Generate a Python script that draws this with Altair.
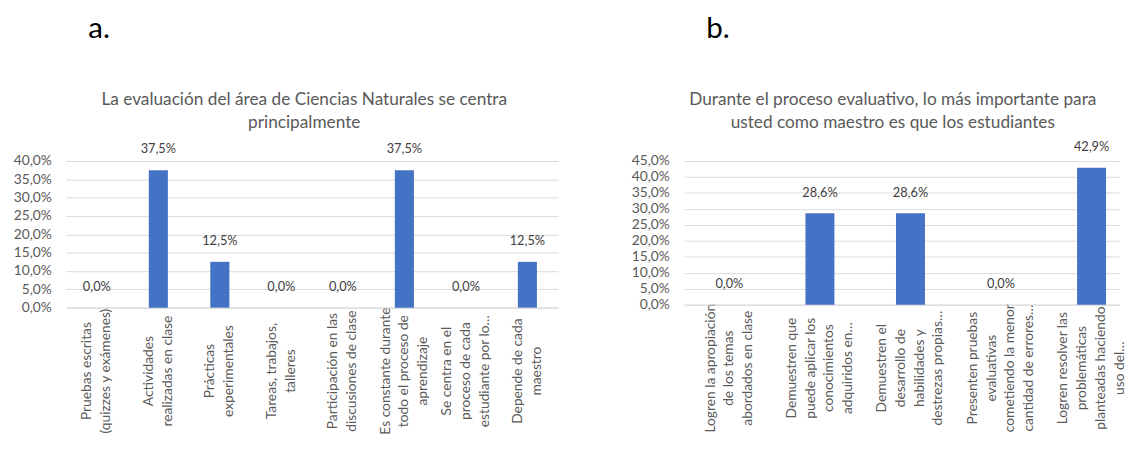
import altair as alt
import pandas as pd

# ---------------- data ----------------
cats_a = [
    "Pruebas escritas|(quizzes y exámenes)",
    "Actividades|realizadas en clase",
    "Prácticas|experimentales",
    "Tareas, trabajos,|talleres",
    "Participación en las|discusiones de clase",
    "Es constante durante|todo el proceso de|aprendizaje",
    "Se centra en el|proceso de cada|estudiante por lo…",
    "Depende de cada|maestro",
]
vals_a = [0.0, 0.375, 0.125, 0.0, 0.0, 0.375, 0.0, 0.125]
ticks_a = [0.0, 0.05, 0.10, 0.15, 0.20, 0.25, 0.30, 0.35, 0.40]
title_a = ["La evaluación del área de Ciencias Naturales se centra", "principalmente"]

cats_b = [
    "Logren la apropiación|de los temas|abordados en clase",
    "Demuestren que|puede aplicar los|conocimientos|adquiridos en…",
    "Demuestren el|desarrollo de|habilidades y|destrezas propias…",
    "Presenten pruebas|evaluativas|cometiendo la menor|cantidad de errores…",
    "Logren resolver las|problemáticas|planteadas haciendo|uso del…",
]
vals_b = [0.0, 0.286, 0.286, 0.0, 0.429]
ticks_b = [0.0, 0.05, 0.10, 0.15, 0.20, 0.25, 0.30, 0.35, 0.40, 0.45]
title_b = ["Durante el proceso evaluativo, lo más importante para",
           "usted como maestro es que los estudiantes"]

FONT = "Lato"
GRAY = "#595959"
LH = 19
PCT = "replace(format({}, '.1%'), '.', ',')"
THREE = "length(split(datum.label, '|')) == 3"


def panel(cats, vals, ticks, title, letter, w, h, xscale, label_pad, title_dx, other_lines):
    df = pd.DataFrame({"cat": cats, "v": vals})
    # centre every multi-line label block on its category
    lab_off = {"condition": {"test": THREE, "value": -LH},
               "value": -(other_lines - 1) * LH / 2}
    base = alt.Chart(df).encode(
        x=alt.X(
            "cat:N", sort=None, scale=xscale,
            axis=alt.Axis(
                title=None, labelAngle=270, labelAlign="center", labelBaseline="middle",
                labelPadding=label_pad, labelExpr="split(datum.label, '|')",
                labelOffset=lab_off,
                labelFont=FONT, labelFontSize=14, labelColor=GRAY, labelLineHeight=LH,
                ticks=False, domainColor="#d9d9d9", labelLimit=400, labelOverlap=False,
            ),
        ),
        y=alt.Y(
            "v:Q", scale=alt.Scale(domain=[0, ticks[-1]], nice=False),
            axis=alt.Axis(
                values=ticks, labelExpr=PCT.format("datum.value"),
                grid=True, gridColor="#d9d9d9", domain=False, ticks=False,
                labelPadding=15, labelFont=FONT, labelFontSize=14, labelColor=GRAY,
                title=letter, titleX=22, titleY=-125, titleAngle=0, titleAlign="left",
                titleBaseline="alphabetic", titleFont=FONT, titleFontSize=30,
                titleFontWeight="normal", titleColor="#000000",
            ),
        ),
    )
    bars = base.mark_bar(color="#4472C4")
    labels = base.mark_text(
        dy=-21, font=FONT, fontSize=13, color="#404040", baseline="middle"
    ).transform_calculate(lbl=PCT.format("datum.v")).encode(text="lbl:N")
    head = alt.Chart(pd.DataFrame({"t": ["\n".join(title)]})).mark_text(
        lineBreak="\n", font=FONT, fontSize=17.5, color=GRAY, lineHeight=23,
        baseline="alphabetic", align="center",
    ).encode(text="t:N", x=alt.value(w / 2 + title_dx), y=alt.value(-57))
    return alt.layer(bars, labels, head).properties(width=w, height=h)


pa = panel(cats_a, vals_a, ticks_a, title_a, "a.", 500, 149,
           alt.Scale(paddingInner=0.69, paddingOuter=0.345), 64, -8, 2)
pb = panel(cats_b, vals_b, ticks_b, title_b, "b.", 442, 146,
           alt.Scale(paddingInner=0.68, paddingOuter=0.242, align=0.702), 64, -9, 4)

chart = alt.hconcat(pa, pb, spacing=74).properties(
    padding={"left": 5, "top": 3, "right": 0, "bottom": 0}
).configure_view(strokeWidth=0)

chart.save("out.html", embed_options={"renderer": "svg", "actions": False})
